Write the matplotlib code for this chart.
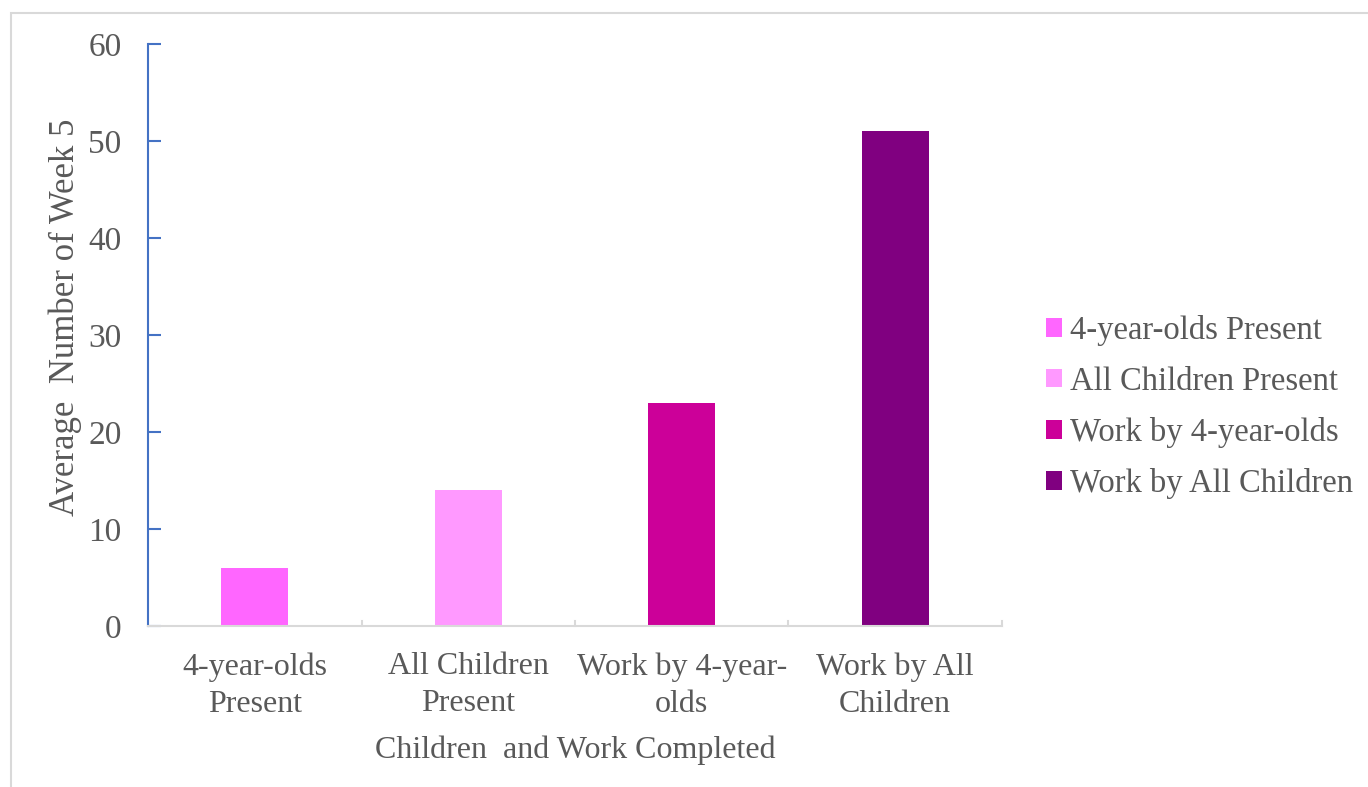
import matplotlib.pyplot as plt
from matplotlib.patches import Rectangle

categories = ['4-year-olds\nPresent', 'All Children\nPresent', 'Work by 4-year-\nolds', 'Work by All\nChildren']
series = ['4-year-olds Present', 'All Children Present', 'Work by 4-year-olds', 'Work by All Children']
values = [6, 14, 23, 51]
colors = ['#FF66FF', '#FF99FF', '#CC0099', '#800080']

plt.rcParams['font.family'] = ['Liberation Serif', 'DejaVu Serif']
text_color = '#595959'

fig = plt.figure(figsize=(13.68, 7.87), dpi=100)
ax = fig.add_axes([148 / 1368, 1 - 626 / 787, (1002 - 148) / 1368, (626 - 44) / 787])

# outer chart-area border
fig.patches.append(Rectangle((11 / 1368, -0.02), 1.1, 1 - 13 / 787 + 0.02,
                             transform=fig.transFigure, fill=False,
                             edgecolor='#D9D9D9', linewidth=1.5))

for i, (v, c, s) in enumerate(zip(values, colors, series)):
    ax.bar(i, v, width=0.314, color=c, label=s)

ax.set_xlim(-0.5, 3.5)
ax.set_ylim(0, 60)
ax.set_yticks(range(0, 61, 10))
ax.set_xticks(range(4))
ax.set_xticklabels(categories)

for side in ['top', 'right']:
    ax.spines[side].set_visible(False)
ax.spines['left'].set_color('#4472C4')
ax.spines['left'].set_linewidth(1.5)
ax.spines['bottom'].set_color('#D9D9D9')
ax.spines['bottom'].set_linewidth(1.5)

ax.tick_params(axis='y', direction='in', length=9, width=1.5, color='#4472C4',
               labelsize=24, labelcolor=text_color, pad=19)
ax.tick_params(axis='x', length=0, labelsize=23, labelcolor=text_color, pad=19)

# category boundary ticks along the x axis
for b in [0.5, 1.5, 2.5, 3.5]:
    ax.plot([b, b], [0, 0.5], color='#D9D9D9', linewidth=1.5, clip_on=False)

for lbl in ax.get_xticklabels():
    lbl.set_linespacing(1.35)

ax.set_xlabel('Children  and Work Completed', fontsize=23, color=text_color, labelpad=12)
ax.set_ylabel('Average  Number of Week 5', fontsize=25, color=text_color)
ax.yaxis.set_label_coords(-0.077, 0.531)

leg = fig.legend(loc='center left', bbox_to_anchor=(1046 / 1368, 1 - 407 / 787),
                 frameon=False, fontsize=23.5, handlelength=0.5, handleheight=0.5,
                 handletextpad=0.25, labelspacing=0.62, labelcolor=text_color,
                 borderpad=0, borderaxespad=0)

fig.savefig('out.png', dpi=100, facecolor='white')
